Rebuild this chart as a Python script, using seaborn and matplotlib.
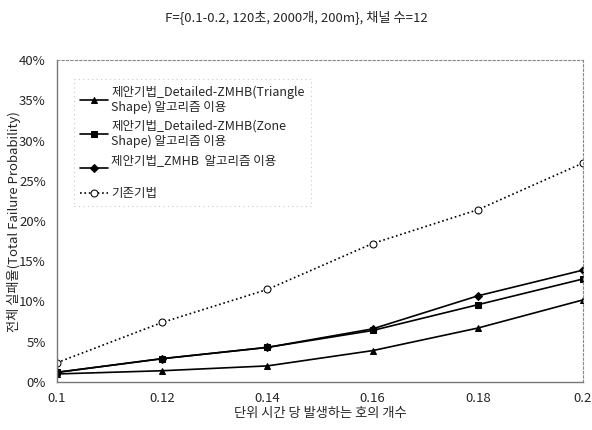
import matplotlib
matplotlib.use("Agg")
import matplotlib.pyplot as plt
import seaborn as sns
import pandas as pd

x_vals = [0.1, 0.12, 0.14, 0.16, 0.18, 0.2]
x_ticklabels = ["0.1", "0.12", "0.14", "0.16", "0.18", "0.2"]
tri_vals = [1.0, 1.4, 2.0, 3.9, 6.7, 10.2]
sq_vals = [1.2, 2.9, 4.3, 6.4, 9.6, 12.8]
dia_vals = [1.2, 2.9, 4.3, 6.6, 10.7, 13.9]
base_vals = [2.4, 7.4, 11.5, 17.2, 21.4, 27.2]
y_ticks = [0, 5, 10, 15, 20, 25, 30, 35, 40]

labels = [
    "제안기법_Detailed-ZMHB(Triangle\nShape) 알고리즘 이용",
    "제안기법_Detailed-ZMHB(Zone\nShape) 알고리즘 이용",
    "제안기법_ZMHB  알고리즘 이용\n",
    "기존기법",
]
title = "F={0.1-0.2, 120초, 2000개, 200m}, 채널 수=12"
xlabel = "단위 시간 당 발생하는 호의 개수"
ylabel = "전체 실패율(Total Failure Probability)"

sns.set_theme(style="white")
plt.rcParams['font.family'] = ['Noto Sans CJK KR', 'DejaVu Sans']

fig = plt.figure(figsize=(5.92, 4.3), dpi=100)
ax = fig.add_axes([57/592, 48/430, (583-57)/592, (382-60)/430])

series = [
    (tri_vals, '^', '-', 'black'),
    (sq_vals, 's', '-', 'black'),
    (dia_vals, 'D', '-', 'black'),
    (base_vals, 'o', ':', 'white'),
]
for (vals, mk, ls, fc), lab in zip(series, labels):
    df = pd.DataFrame({"x": x_vals, "y": vals})
    sns.lineplot(data=df, x="x", y="y", ax=ax, color="black", marker=mk,
                 linestyle=ls, linewidth=1.2, markersize=5 if mk != 'D' else 4,
                 markerfacecolor=fc, markeredgecolor="black", label=lab)

ax.set_xlim(0.1, 0.2)
ax.set_ylim(0, 40)
ax.set_xticks(x_vals)
ax.set_xticklabels(x_ticklabels, fontsize=9.5)
ax.set_yticks(y_ticks)
ax.set_yticklabels([f"{v}%" for v in y_ticks], fontsize=9.5)
ax.tick_params(axis='x', length=0, pad=7)
ax.tick_params(axis='y', length=0, pad=8)
ax.set_xlabel("")
ax.set_ylabel("")

for side in ['top', 'right']:
    ax.spines[side].set_linestyle((0, (2, 2)))
    ax.spines[side].set_color('#888888')
    ax.spines[side].set_linewidth(0.8)
for side in ['left', 'bottom']:
    ax.spines[side].set_color('#777777')
    ax.spines[side].set_linewidth(1.0)

leg = ax.legend(loc='upper left', bbox_to_anchor=(0.02, 0.96), fontsize=9,
                frameon=True, fancybox=False, handlelength=2.2,
                handletextpad=0.3, labelspacing=0.45, borderpad=0.5)
leg.get_frame().set_edgecolor('#bbbbbb')
leg.get_frame().set_linestyle((0, (1, 3)))
leg.get_frame().set_linewidth(0.8)
for t in leg.get_texts():
    t.set_linespacing(1.2)

fig.text(296/592, 1 - 17/430, title, ha='center', va='center', fontsize=9.5)
fig.text(320/592, 1 - 413/430, xlabel, ha='center', va='center', fontsize=9.5)
fig.text(14/592, 1 - 222/430, ylabel, ha='center', va='center', fontsize=9.5,
         rotation=90)

fig.savefig("out.png", dpi=100)
